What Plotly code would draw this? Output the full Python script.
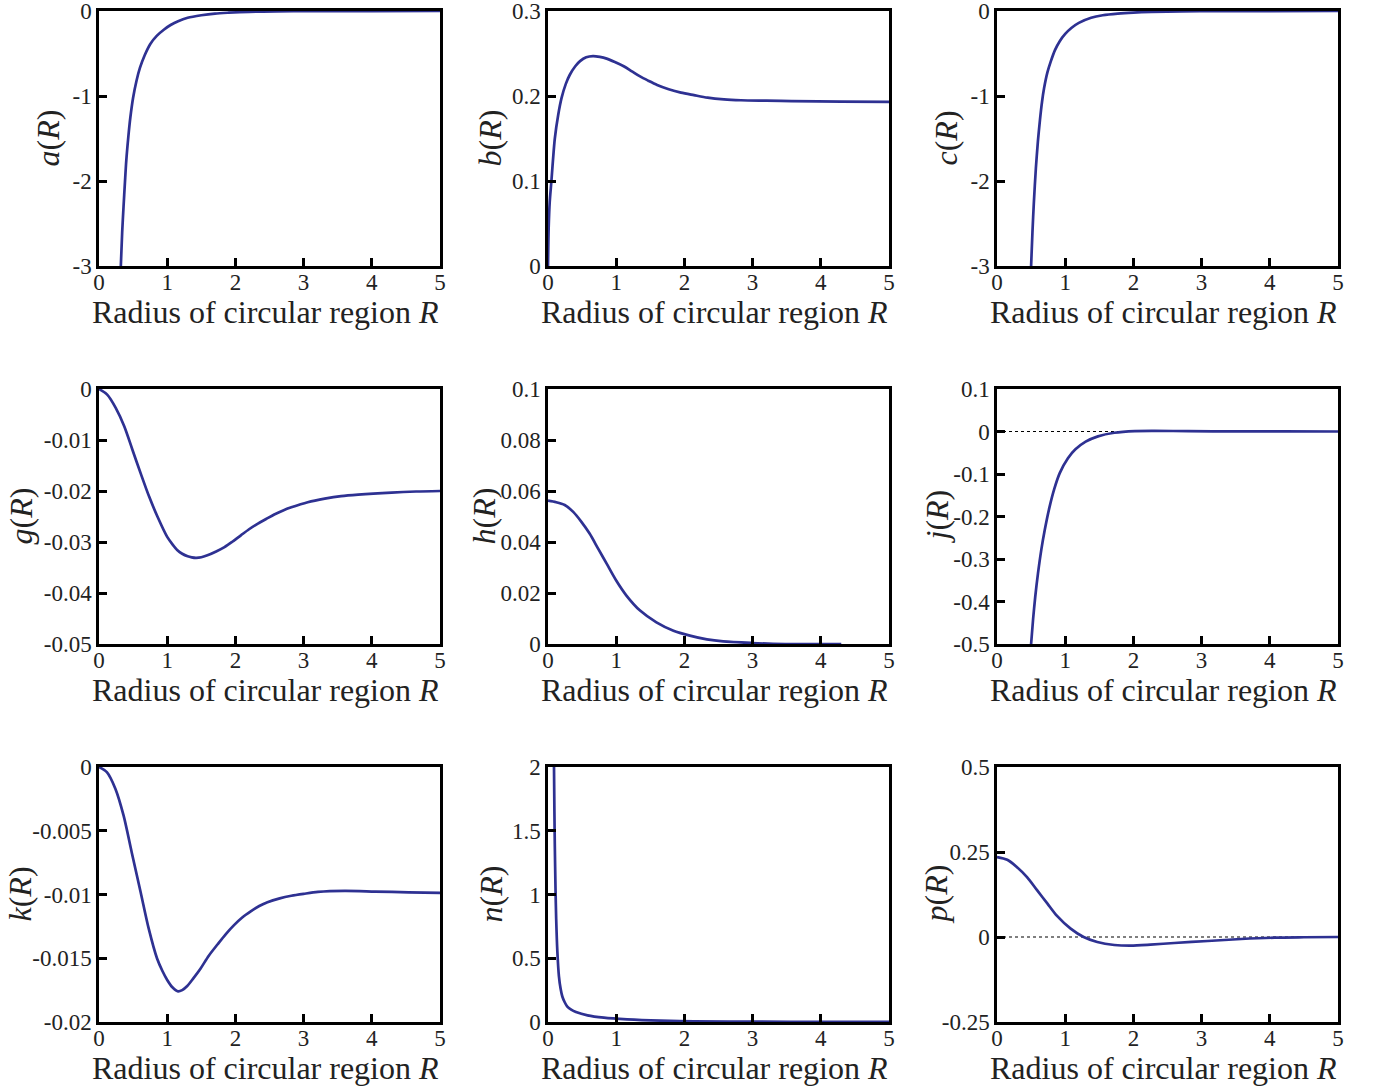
import plotly.graph_objects as go

W, H = 1381, 1089

# ---------------- data ----------------
R_a = [0.32, 0.34, 0.36, 0.38, 0.40, 0.43, 0.46, 0.50, 0.55, 0.60, 0.67, 0.75, 0.85, 0.95, 1.05, 1.16, 1.3, 1.5, 1.7, 1.9, 2.2, 2.6, 3.0, 4.0, 5.0]
a_v = [-3.0, -2.6, -2.3, -2.02, -1.76, -1.48, -1.25, -1.02, -0.82, -0.67, -0.52, -0.39, -0.29, -0.22, -0.165, -0.12, -0.08, -0.05, -0.03, -0.02, -0.01, -0.004, -0.002, -0.0005, 0.0]

R_b = [0.0, 0.01, 0.025, 0.05, 0.1, 0.15, 0.2, 0.26, 0.32, 0.4, 0.47, 0.56, 0.66, 0.76, 0.86, 0.98, 1.11, 1.23, 1.35, 1.47, 1.6, 1.77, 1.95, 2.14, 2.34, 2.58, 2.83, 3.2, 3.57, 4.3, 5.0]
b_v = [0.0, 0.045, 0.075, 0.100, 0.150, 0.178, 0.198, 0.214, 0.225, 0.235, 0.241, 0.2455, 0.247, 0.246, 0.244, 0.240, 0.235, 0.229, 0.223, 0.218, 0.213, 0.208, 0.204, 0.201, 0.198, 0.196, 0.195, 0.1945, 0.194, 0.1935, 0.193]

R_c = [0.50, 0.52, 0.54, 0.57, 0.60, 0.63, 0.66, 0.69, 0.74, 0.79, 0.85, 0.92, 1.0, 1.09, 1.2, 1.38, 1.55, 1.77, 2.0, 2.26, 2.7, 3.2, 4.0, 5.0]
c_v = [-3.0, -2.6, -2.26, -1.85, -1.53, -1.28, -1.07, -0.91, -0.72, -0.59, -0.46, -0.355, -0.27, -0.20, -0.14, -0.08, -0.05, -0.03, -0.018, -0.01, -0.004, -0.0015, -0.0004, 0.0]

R_g = [0.0, 0.12, 0.245, 0.37, 0.49, 0.61, 0.735, 0.86, 1.0, 1.08, 1.15, 1.22, 1.30, 1.36, 1.42, 1.50, 1.59, 1.71, 1.84, 1.96, 2.08, 2.2, 2.33, 2.45, 2.57, 2.7, 2.82, 3.06, 3.31, 3.55, 3.8, 4.29, 4.65, 5.0]
g_v = [0.0, -0.0011, -0.0037, -0.0073, -0.0119, -0.0165, -0.0211, -0.0251, -0.0290, -0.0305, -0.0316, -0.0323, -0.0328, -0.0330, -0.0331, -0.0330, -0.0326, -0.0319, -0.0310, -0.0299, -0.0287, -0.0275, -0.0264, -0.0255, -0.0246, -0.0238, -0.0232, -0.0222, -0.0215, -0.0210, -0.0207, -0.0203, -0.0201, -0.0200]

R_h = [0.0, 0.12, 0.245, 0.37, 0.49, 0.61, 0.735, 0.86, 1.0, 1.15, 1.35, 1.59, 1.84, 2.08, 2.33, 2.57, 2.98, 3.3, 3.8, 4.3]
h_v = [0.0562, 0.0556, 0.0545, 0.0518, 0.0479, 0.0433, 0.0374, 0.0315, 0.0249, 0.0190, 0.0131, 0.0085, 0.0052, 0.0033, 0.0018, 0.0010, 0.0004, 0.0001, 0.0, 0.0]

R_j = [0.50, 0.53, 0.56, 0.60, 0.65, 0.70, 0.77, 0.84, 0.92, 1.04, 1.15, 1.30, 1.48, 1.72, 2.02, 2.31, 2.8, 3.5, 4.2, 5.0]
j_v = [-0.5, -0.44, -0.39, -0.335, -0.278, -0.232, -0.178, -0.135, -0.098, -0.063, -0.042, -0.024, -0.0115, -0.003, 0.001, 0.0015, 0.0008, 0.0003, 0.0001, 0.0]

R_k = [0.0, 0.115, 0.24, 0.36, 0.48, 0.61, 0.73, 0.85, 0.93, 1.0, 1.08, 1.16, 1.22, 1.29, 1.38, 1.49, 1.61, 1.74, 1.86, 1.98, 2.1, 2.23, 2.35, 2.47, 2.65, 2.82, 3.0, 3.21, 3.6, 4.05, 4.54, 5.0]
k_v = [0.0, -0.0004, -0.0017, -0.0038, -0.0067, -0.0098, -0.0127, -0.0150, -0.0160, -0.0167, -0.0173, -0.0176, -0.0175, -0.0172, -0.0166, -0.0158, -0.0148, -0.0139, -0.0131, -0.0124, -0.0118, -0.0113, -0.0109, -0.0106, -0.0103, -0.0101, -0.00995, -0.0098, -0.00972, -0.00977, -0.00983, -0.00988]

R_n = [0.088, 0.094, 0.10, 0.11, 0.12, 0.137, 0.16, 0.185, 0.21, 0.245, 0.28, 0.34, 0.41, 0.58, 0.82, 1.16, 1.65, 2.14, 3.12, 4.0, 5.0]
n_v = [2.0, 1.65, 1.38, 1.05, 0.81, 0.555, 0.36, 0.26, 0.20, 0.155, 0.123, 0.097, 0.0785, 0.052, 0.034, 0.021, 0.0105, 0.005, 0.0026, 0.0015, 0.001]

R_p = [0.0, 0.15, 0.29, 0.44, 0.59, 0.74, 0.88, 1.08, 1.27, 1.47, 1.72, 1.96, 2.25, 2.6, 3.09, 3.58, 4.07, 4.5, 5.0]
p_v = [0.235, 0.227, 0.206, 0.176, 0.137, 0.098, 0.062, 0.0245, 0.0, -0.0147, -0.0235, -0.0255, -0.0225, -0.0176, -0.0118, -0.0059, -0.0020, -0.0008, 0.0]

x_ticks = [0, 1, 2, 3, 4, 5]
x_ticktext = ["0", "1", "2", "3", "4", "5"]

panels = [
    # name, R, values, yrange, tickvals, ticktext, zero line, title offset
    ("a", R_a, a_v, [-3, 0], [0, -1, -2, -3], ["0", "-1", "-2", "-3"], False, 51),
    ("b", R_b, b_v, [0, 0.3], [0, 0.1, 0.2, 0.3], ["0", "0.1", "0.2", "0.3"], False, 58),
    ("c", R_c, c_v, [-3, 0], [0, -1, -2, -3], ["0", "-1", "-2", "-3"], False, 51),
    ("g", R_g, g_v, [-0.05, 0], [0, -0.01, -0.02, -0.03, -0.04, -0.05],
     ["0", "-0.01", "-0.02", "-0.03", "-0.04", "-0.05"], False, 79),
    ("h", R_h, h_v, [0, 0.1], [0, 0.02, 0.04, 0.06, 0.08, 0.1],
     ["0", "0.02", "0.04", "0.06", "0.08", "0.1"], False, 65),
    ("j", R_j, j_v, [-0.5, 0.1], [0.1, 0, -0.1, -0.2, -0.3, -0.4, -0.5],
     ["0.1", "0", "-0.1", "-0.2", "-0.3", "-0.4", "-0.5"], True, 61),
    ("k", R_k, k_v, [-0.02, 0], [0, -0.005, -0.01, -0.015, -0.02],
     ["0", "-0.005", "-0.01", "-0.015", "-0.02"], False, 80),
    ("n", R_n, n_v, [0, 2], [0, 0.5, 1, 1.5, 2], ["0", "0.5", "1", "1.5", "2"], False, 58),
    ("p", R_p, p_v, [-0.25, 0.5], [0.5, 0.25, 0, -0.25], ["0.5", "0.25", "0", "-0.25"], True, 62),
]

col_left = [99, 548, 997]
row_top = [11, 389, 767]
PW, PH = 341, 255

LINE_COLOR = "#2E3192"
FONT = "Liberation Serif, Times New Roman, serif"

fig = go.Figure()
annotations = []
layout_axes = {}

for i, (name, R, vals, yr, tv, tt, zero, toff) in enumerate(panels):
    r, c = divmod(i, 3)
    idx = i + 1
    xa = "x" if idx == 1 else f"x{idx}"
    ya = "y" if idx == 1 else f"y{idx}"
    left, top = col_left[c], row_top[r]
    xd = [left / W, (left + PW) / W]
    yd = [1 - (top + PH) / H, 1 - top / H]

    if zero:
        fig.add_trace(go.Scatter(x=[0, 5], y=[0, 0], mode="lines", xaxis=xa, yaxis=ya,
                                 line=dict(color="black", width=1.2, dash="dot"),
                                 showlegend=False, hoverinfo="skip"))
    fig.add_trace(go.Scatter(x=R, y=vals, mode="lines", xaxis=xa, yaxis=ya,
                             line=dict(color=LINE_COLOR, width=2.7, shape="spline", smoothing=0.8),
                             showlegend=False))

    common = dict(showline=True, linecolor="black", linewidth=2.5, mirror=True,
                  ticks="inside", ticklen=8, tickwidth=2.5, tickcolor="black",
                  showgrid=False, zeroline=False, automargin=False,
                  ticklabeloverflow="allow",
                  tickfont=dict(family=FONT, size=23, color="#222"))
    layout_axes["xaxis" if idx == 1 else f"xaxis{idx}"] = dict(
        domain=xd, range=[0, 5], tickvals=x_ticks, ticktext=x_ticktext,
        anchor=ya, ticklabelstandoff=-6, **common)
    layout_axes["yaxis" if idx == 1 else f"yaxis{idx}"] = dict(
        domain=yd, range=yr, tickvals=tv, ticktext=tt, anchor=xa, **common)

    annotations.append(dict(
        text=f"<i>{name}</i>(<i>R</i>)", textangle=-90,
        x=(left - toff) / W, y=1 - (top + PH / 2) / H, xref="paper", yref="paper",
        xanchor="center", yanchor="middle", showarrow=False,
        font=dict(family=FONT, size=32, color="#222")))
    annotations.append(dict(
        text="Radius of circular region <i>R</i>",
        x=(left + PW / 2 - 4) / W, y=1 - (top + PH + 46) / H, xref="paper", yref="paper",
        xanchor="center", yanchor="middle", showarrow=False,
        font=dict(family=FONT, size=32, color="#222")))

fig.update_layout(
    width=W, height=H, margin=dict(l=0, r=0, t=0, b=0, autoexpand=False),
    paper_bgcolor="white", plot_bgcolor="white",
    annotations=annotations, **layout_axes)

fig.write_html("out.html", config={"displayModeBar": False},
               post_script="document.body.style.margin='0';document.body.style.overflow='hidden';")
